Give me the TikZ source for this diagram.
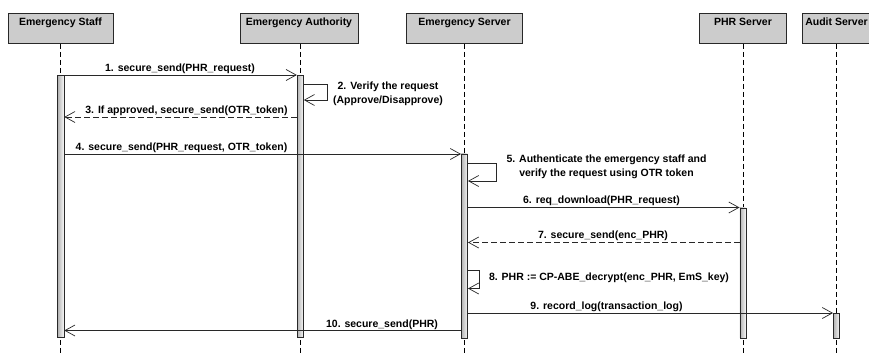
\documentclass[tikz,border=0pt]{standalone}
\usepackage{fontspec}
\setmainfont{Liberation Sans}
\usetikzlibrary{arrows.meta}
\definecolor{headfill}{RGB}{204,204,204}
\definecolor{ink}{RGB}{40,40,40}
\begin{document}
\begin{tikzpicture}[x=1pt,y=-1pt,
  font=\bfseries\fontsize{10.5}{12}\selectfont,
  headbox/.style={draw=ink, fill=headfill, line width=0.8pt, minimum height=30pt, inner sep=0pt, anchor=north},
  headtext/.style={anchor=base, inner sep=0pt},
  lifeline/.style={draw=black, line width=0.7pt, dash pattern=on 5pt off 3pt},
  actbar/.style={draw=ink, line width=0.7pt, left color=gray!60, right color=gray!5, minimum width=6.3pt, inner sep=0pt, anchor=north},
  call/.style={draw=ink, line width=0.7pt, -{Straight Barb[length=10pt,width=11pt]}},
  reply/.style={call, dash pattern=on 6pt off 3pt},
  msglabel/.style={anchor=base, inner sep=0pt},
]
\useasboundingbox (0,0) rectangle (869,354);

% participants
\node[headbox, minimum width=105pt] (staff) at (60.5,13) {};
\node[headbox, minimum width=118pt] (auth)  at (299,13) {};
\node[headbox, minimum width=116pt] (srv)   at (464.5,13) {};
\node[headbox, minimum width=87pt]  (phr)   at (743,13) {};
\node[headbox, minimum width=68pt]  (audit) at (836.5,13) {};
\node[headtext] (staffname) at (60.5,25) {Emergency Staff};
\node[headtext] (authname)  at (299,25) {Emergency Authority};
\node[headtext] (srvname)   at (464.5,25) {Emergency Server};
\node[headtext] (phrname)   at (743,25) {PHR Server};
\node[headtext] (auditname) at (836.5,25) {Audit Server};

% lifelines
\draw[lifeline] (staff.south -| 60.5,0) -- ++(0,311);
\draw[lifeline] (auth.south -| 300.3,0) -- ++(0,311);
\draw[lifeline] (srv.south) -- ++(0,311);
\draw[lifeline] (phr.south) -- ++(0,311);
\draw[lifeline] (audit.south) -- ++(0,311);

% activation bars
\node[actbar, minimum height=262pt]   (staffbar) at (60.8,75) {};
\node[actbar, minimum height=262pt]   (authbar)  at (300.3,75) {};
\node[actbar, minimum height=184.5pt] (srvbar)   at (464.5,153.5) {};
\node[actbar, minimum height=130pt]   (phrbar)   at (743,207.5) {};
\node[actbar, minimum height=24.5pt]  (auditbar) at (836.5,313) {};

% 1
\draw[call] (staffbar.east |- 0,75) -- (authbar.west |- 0,75);
\node[msglabel] (l1) at (180,71) {1. secure\_send(PHR\_request)};
% 2
\draw[call] (authbar.east |- 0,84) -- ++(24,0) -- ++(0,16) -- (authbar.east |- 0,100);
\node[msglabel] (l2a) at (388,89) {2. Verify the request};
\node[msglabel] (l2b) at (388,103) {(Approve/Disapprove)};
% 3
\draw[reply] (authbar.west |- 0,117) -- (staffbar.east |- 0,117);
\node[msglabel] (l3) at (186.5,113) {3. If approved, secure\_send(OTR\_token)};
% 4
\draw[call] (staffbar.east |- 0,154) -- (srvbar.west |- 0,154);
\node[msglabel] (l4) at (181.5,150) {4. secure\_send(PHR\_request, OTR\_token)};
% 5
\draw[call] (srvbar.east |- 0,163) -- ++(28,0) -- ++(0,18) -- (srvbar.east |- 0,181);
\node[msglabel] (l5a) at (606.5,162) {5. Authenticate the emergency staff and};
\node[msglabel] (l5b) at (606.5,176) {verify the request using OTR token};
% 6
\draw[call] (srvbar.east |- 0,207.5) -- (phrbar.west |- 0,207.5);
\node[msglabel] (l6) at (601.5,203) {6. req\_download(PHR\_request)};
% 7
\draw[reply] (phrbar.west |- 0,242.5) -- (srvbar.east |- 0,242.5);
\node[msglabel] (l7) at (603,238.5) {7. secure\_send(enc\_PHR)};
% 8
\draw[call] (srvbar.east |- 0,270.5) -- ++(11,0) -- ++(0,18) -- (srvbar.east |- 0,288.5);
\node[msglabel] (l8) at (609,280.5) {8. PHR := CP-ABE\_decrypt(enc\_PHR, EmS\_key)};
% 9
\draw[call] (srvbar.east |- 0,313) -- (auditbar.west |- 0,313);
\node[msglabel] (l9) at (606.5,309.5) {9. record\_log(transaction\_log)};
% 10
\draw[call] (srvbar.west |- 0,330.5) -- (staffbar.east |- 0,330.5);
\node[msglabel] (l10) at (382,327) {10. secure\_send(PHR)};
\end{tikzpicture}
\end{document}
